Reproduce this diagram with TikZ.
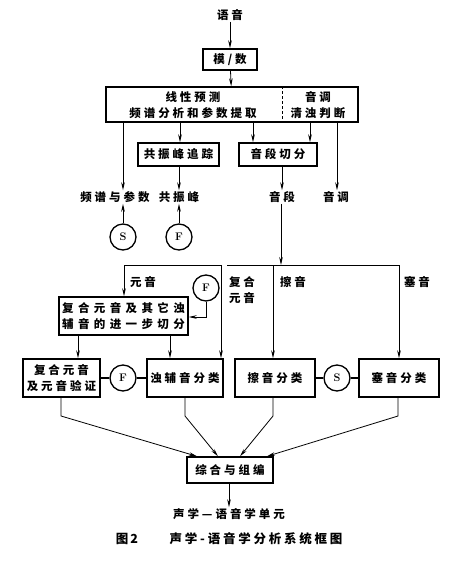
\documentclass[tikz,border=0pt]{standalone}
\usepackage{fontspec}
\newfontfamily\cjk[LetterSpace=26]{Noto Sans CJK SC}
\usetikzlibrary{arrows.meta}
\tikzset{
  cjkfont/.style={font=\cjk\bfseries\fontsize{11.5}{15.5}\selectfont},
  box/.style={draw, line width=1.4pt, inner sep=0pt, align=center, cjkfont},
  lbl/.style={inner sep=1pt, align=center, cjkfont},
  circ/.style={draw, circle, line width=1.3pt, minimum size=26pt, inner sep=0pt, font=\rmfamily\bfseries\fontsize{11}{13}\selectfont},
  arr/.style={-{Stealth[length=8pt,width=3.6pt]}, line width=0.8pt},
  ln/.style={line width=0.8pt},
}
\begin{document}
\begin{tikzpicture}[x=1pt,y=-1pt]
\useasboundingbox (0,0) rectangle (452,563);
% top
\node[lbl] (yy) at (230,15) {语音};
\node[box, minimum width=54pt, minimum height=21pt] (ad) at (230,59.5) {模/数};
\node[box, minimum width=252pt, minimum height=35pt] (lp) at (232,104.5) {};
\draw[ln, dashed, dash pattern=on 3pt off 2pt] (lp.north -| 282,0) -- (lp.south -| 282,0);
\node[lbl] (t1) at (193,97) {线性预测};
\node[lbl] (t2) at (193,113) {频谱分析和参数提取};
\node[lbl] (t3) at (318,97) {音调};
\node[lbl] (t4) at (318,113) {清浊判断};
\draw[arr] (yy) -- (ad);
\draw[arr] (ad) -- (lp);
% second row
\node[box, minimum width=81pt, minimum height=23pt] (ft) at (178.5,154.5) {共振峰追踪};
\node[box, minimum width=78pt, minimum height=23pt] (seg) at (278,154.5) {音段切分};
\node[lbl] (pc) at (115,197) {频谱与参数};
\node[lbl] (fl) at (179,197) {共振峰};
\node[lbl] (sl) at (282,197) {音段};
\node[lbl] (tone) at (336,197) {音调};
\draw[arr] (lp.south -| 123,0) -- (pc.north -| 123,0);
\draw[arr] (lp.south -| 180,0) -- (ft.north -| 180,0);
\draw[arr] (lp.south -| 253,0) -- (seg.north -| 253,0);
\draw[arr] (lp.south -| 310,0) -- (seg.north -| 310,0);
\draw[arr] (lp.south -| 337,0) -- (tone.north -| 337,0);
\draw[arr] (ft.south -| 179,0) -- (fl.north -| 179,0);
\draw[arr] (seg.south -| 282,0) -- (sl.north -| 282,0);
\node[circ] (S1) at (123,237) {S};
\node[circ] (F1) at (179,237) {F};
\draw[arr] (S1.north) -- (pc.south -| S1.north);
\draw[arr] (F1.north) -- (fl.south -| F1.north);
% bus
\coordinate (bl) at (124,265);
\coordinate (bm) at (221,265);
\coordinate (br1) at (227,265);
\coordinate (bj) at (281,265);
\coordinate (bc) at (273,265);
\coordinate (br) at (399,265);
\draw[arr] (sl.south -| bj) -- (bj);
\draw[ln] (bl) -- (bm);
\draw[ln] (br1) -- (br);
\node[lbl] (vl) at (143,282) {元音};
\node[lbl] (cvl) at (242,290) {复合\\元音};
\node[lbl] (fr) at (293,282) {擦音};
\node[lbl] (st) at (417,282) {塞音};
\node[circ] (F2) at (206,288) {F};
% further segmentation
\node[box, minimum width=129pt, minimum height=38pt] (fs) at (123.5,316) {\addfontfeature{LetterSpace=38}复合元音及其它浊\\\addfontfeature{LetterSpace=38}辅音的进一步切分};
\draw[arr] (F2.south) |- (fs.east |- 0,317);
% classification row
\node[box, minimum width=77pt, minimum height=38pt] (vv) at (61.5,378) {复合元音\\及元音验证};
\node[circ] (F3) at (123,378) {F};
\node[box, minimum width=76pt, minimum height=38pt] (zc) at (185,378) {浊辅音分类};
\node[box, minimum width=80pt, minimum height=38pt] (cc) at (275,378) {擦音分类};
\node[circ] (S2) at (337,378) {S};
\node[box, minimum width=80pt, minimum height=38pt] (sc) at (399,378) {塞音分类};
\draw[line width=1.3pt] (vv) -- (F3) -- (zc);
\draw[line width=1.3pt] (cc) -- (S2) -- (sc);
\draw[arr] (bl) -- (fs.north -| bl);
\draw[arr] (bm) -- (zc.north -| bm);
\draw[arr] (bc) -- (cc.north -| bc);
\draw[arr] (br) -- (sc.north -| br);
\draw[arr] (fs.south -| 78,0) -- (vv.north -| 78,0);
\draw[arr] (fs.south -| 170,0) -- (zc.north -| 170,0);
% synthesis
\node[box, minimum width=86pt, minimum height=26pt] (syn) at (230,470) {综合与组编};
\draw[arr] (vv.south -| 61,0) -- (61,416) -- (syn.north -| 197,0);
\draw[arr] (zc.south -| 185,0) -- (185,416) -- (syn.north -| 218,0);
\draw[arr] (cc.south -| 273,0) -- (273,416) -- (syn.north -| 240,0);
\draw[arr] (sc.south -| 398,0) -- (398,416) -- (syn.north -| 267,0);
\node[lbl] (out) at (229,514) {声学—语音学单元};
\draw[arr] (syn.south -| out.north) -- (out.north);
% caption
\node[inner sep=0pt, font=\cjk\bfseries\fontsize{12.5}{15}\selectfont] (cap1) at (127,539) {图\,2};
\node[inner sep=0pt, font=\cjk\bfseries\fontsize{12.5}{15}\selectfont] (cap2) at (256,539) {\addfontfeature{LetterSpace=22}声学-语音学分析系统框图};
\end{tikzpicture}
\end{document}
